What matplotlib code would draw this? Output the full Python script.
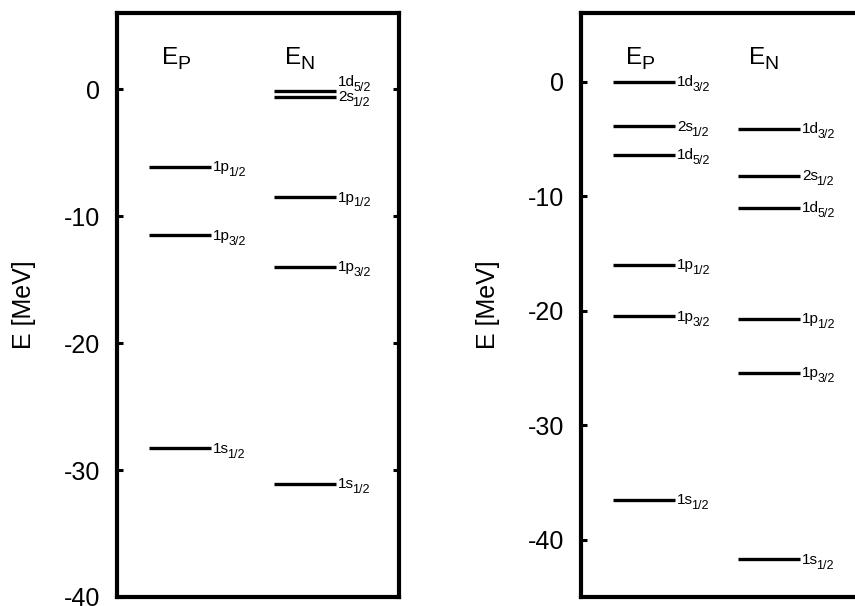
import matplotlib
matplotlib.use("Agg")
import matplotlib.pyplot as plt

plt.rcParams['font.family'] = ['Liberation Sans', 'DejaVu Sans']

# ---- data ----
left_p_labels = [('1p', '1/2'), ('1p', '3/2'), ('1s', '1/2')]
left_p_values = [-6.1, -11.5, -28.3]
left_n_labels = [('1d', '5/2'), ('2s', '1/2'), ('1p', '1/2'), ('1p', '3/2'), ('1s', '1/2')]
left_n_values = [-0.15, -0.6, -8.5, -14.0, -31.1]

right_p_labels = [('1d', '3/2'), ('2s', '1/2'), ('1d', '5/2'), ('1p', '1/2'), ('1p', '3/2'), ('1s', '1/2')]
right_p_values = [0.0, -3.9, -6.4, -16.0, -20.5, -36.5]
right_n_labels = [('1d', '3/2'), ('2s', '1/2'), ('1d', '5/2'), ('1p', '1/2'), ('1p', '3/2'), ('1s', '1/2')]
right_n_values = [-4.1, -8.2, -11.0, -20.7, -25.4, -41.7]

left_yticks = [0, -10, -20, -30, -40]
right_yticks = [0, -10, -20, -30, -40]
column_headers = [('E', 'P'), ('E', 'N')]

fig = plt.figure(figsize=(8.55, 6.06), dpi=100)

W = 282 / 855
H = 584 / 606
B = 9 / 606
axL = fig.add_axes([117 / 855, B, W, H])
axR = fig.add_axes([581 / 855, B, W, H])

P_X = (0.113, 0.333)
N_X = (0.557, 0.777)
HEAD_X = (0.158, 0.594)


def sub_text(ax, main, sub, xy, coords, size, subsize, offset, sub_dx, sub_dy):
    t = ax.annotate(main, xy=xy, xycoords=coords, xytext=offset, textcoords='offset points',
                    ha='left', va='baseline', fontsize=size)
    ax.annotate(sub, xy=(1, 0), xycoords=t, xytext=(sub_dx, sub_dy), textcoords='offset points',
                ha='left', va='baseline', fontsize=subsize)
    return t


def draw(ax, p_lab, p_val, n_lab, n_val, ylim, yticks, offsets=None):
    offsets = offsets or {}
    for xs, labs, vals, col in ((P_X, p_lab, p_val, 'P'), (N_X, n_lab, n_val, 'N')):
        for i, ((m, s), v) in enumerate(zip(labs, vals)):
            ax.plot(list(xs), [v, v], color='black', lw=2.4, solid_capstyle='butt')
            dy = offsets.get((col, i), 0)
            sub_text(ax, m, s, (xs[1], v), 'data', 11, 9, (1.5, -3.2 + dy), -1.2, -1.4)
    ax.set_xlim(0, 1)
    ax.set_ylim(*ylim)
    ax.set_yticks(yticks)
    ax.set_yticklabels([str(t) for t in yticks], fontsize=18)
    ax.set_xticks([])
    ax.tick_params(axis='y', direction='in', length=4.5, width=2.2, right=True, pad=12)
    for s in ax.spines.values():
        s.set_linewidth(3)
    ax.set_ylabel('E [MeV]', fontsize=18)
    ax.yaxis.set_label_coords(-0.288, 0.5)
    for hx, (m, s) in zip(HEAD_X, column_headers):
        sub_text(ax, m, s, (hx, 0.913), 'axes fraction', 17.5, 14, (0, 0), -0.3, 0.0)


draw(axL, left_p_labels, left_p_values, left_n_labels, left_n_values, (-40, 6), left_yticks,
     offsets={('N', 0): 6.5})
draw(axR, right_p_labels, right_p_values, right_n_labels, right_n_values, (-45, 6), right_yticks)

fig.savefig('out.png', dpi=100)
